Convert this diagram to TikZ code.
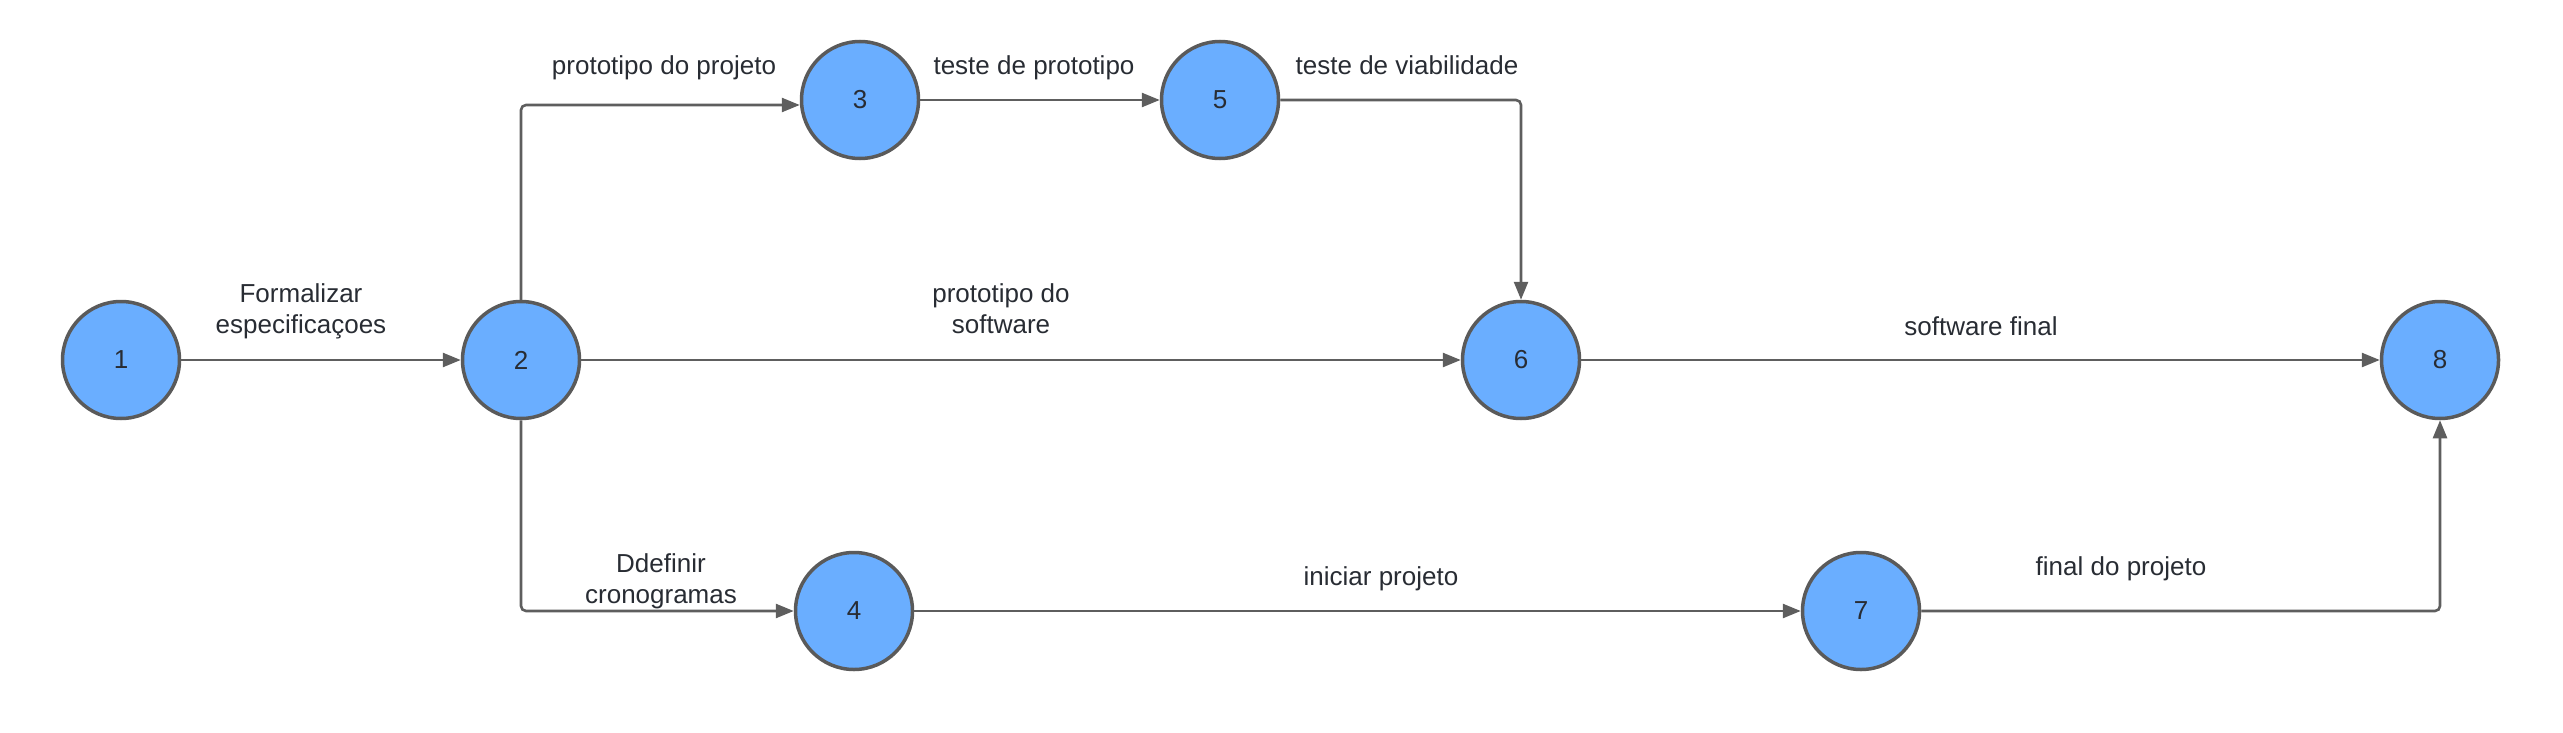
\documentclass[tikz,border=0pt]{standalone}
\usepackage{fontspec}
\setmainfont{Liberation Sans}
\usetikzlibrary{arrows.meta}
\definecolor{nodefill}{RGB}{106,174,255}
\definecolor{nodeborder}{RGB}{90,90,90}
\definecolor{linegray}{RGB}{94,94,94}
\definecolor{txt}{RGB}{40,44,51}
\begin{document}
\begin{tikzpicture}[x=1pt,y=-1pt,
  event/.style={circle,draw=nodeborder,fill=nodefill,line width=3.5pt,
    minimum size=117pt,inner sep=0pt,text=txt,font=\fontsize{26}{31}\selectfont},
  lbl/.style={text=txt,font=\fontsize{26}{31}\selectfont,align=center,inner sep=0pt,anchor=base},
  conn/.style={draw=linegray,line width=2.6pt,rounded corners=5pt,
    -{Triangle[length=18pt,width=14pt]}}]
\useasboundingbox (0,0) rectangle (2563,733);
\node[event] (n1) at (121,360) {1};
\node[event] (n2) at (521,360) {2};
\node[event] (n3) at (860,100) {3};
\node[event] (n5) at (1220,100) {5};
\node[event] (n6) at (1521,360) {6};
\node[event] (n8) at (2440,360) {8};
\node[event] (n4) at (854,611) {4};
\node[event] (n7) at (1861,611) {7};
\coordinate (c23) at ([yshift=-5pt]n3.west);
\draw[conn] (n1) -- (n2);
\draw[conn] (n2.north) |- (c23);
\draw[conn] (n3) -- (n5);
\draw[conn] (n5.east) -| (n6.north);
\draw[conn] (n2) -- (n6);
\draw[conn] (n6) -- (n8);
\draw[conn] (n2.south) |- (n4.west);
\draw[conn] (n4) -- (n7);
\draw[conn] (n7.east) -| (n8.south);
\node[lbl] (l12) at (301,333) {Formalizar\\especificaçoes};
\node[lbl] (l23) at (664,75) {prototipo do projeto};
\node[lbl] (l35) at (1034,75) {teste de prototipo};
\node[lbl] (l56) at (1407,75) {teste de viabilidade};
\node[lbl] (l26) at (1001,333) {prototipo do\\software};
\node[lbl] (l68) at (1981,335) {software final};
\node[lbl] (l24) at (661,603) {Ddefinir\\cronogramas};
\node[lbl] (l47) at (1381,585) {iniciar projeto};
\node[lbl] (l78) at (2121,575) {final do projeto};
\end{tikzpicture}
\end{document}
